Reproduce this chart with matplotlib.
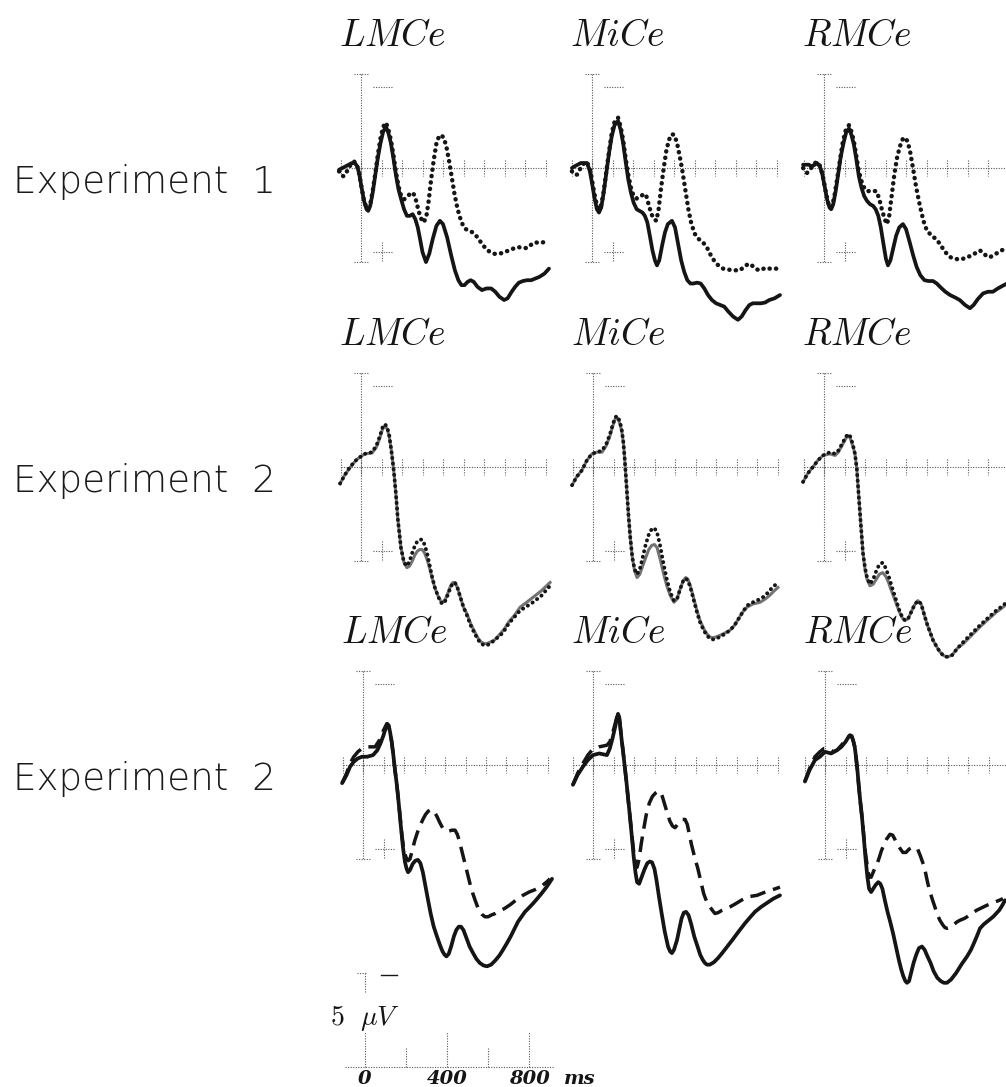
import matplotlib
matplotlib.use("Agg")
import matplotlib.pyplot as plt

plt.rcParams["mathtext.fontset"] = "cm"

W, H = 1006, 1087
PX_MS = 0.205   # pixels per ms
PX_UV = 16.5    # pixels per microvolt

electrodes = ["LMCe", "MiCe", "RMCe"]
row_labels = ["Experiment  1", "Experiment  2", "Experiment  2"]

# ---- Experiment 1 (solid vs dotted), values in uV, negative up ----
lmce1_t = [-107, -90, -75, -60, -45, -30, -18, -8, 3, 15, 27, 35, 45, 57, 70, 82, 95, 108, 122, 134,
           146, 158, 170, 183, 196, 210, 224, 238, 252, 265, 277, 288, 300, 317, 333, 350, 368, 385, 400, 420,
           440, 458, 475, 490, 505, 520, 535, 550, 568, 590, 612, 635, 655, 675, 698, 715, 735, 752, 770, 790,
           810, 830, 850, 870, 895, 917]
lmce1_solid = [0.1, 0.0, -0.1, -0.2, -0.3, -0.3, -0.1, 0.4, 1.2, 2.0, 2.5, 2.6, 2.3, 1.5, 0.4, -0.6, -1.5, -2.2, -2.5, -2.1,
               -1.5, -0.6, 0.4, 1.3, 1.9, 2.5, 2.9, 2.9, 2.8, 3.1, 3.6, 4.3, 5.1, 5.7, 5.2, 4.3, 3.5, 3.2, 3.4, 4.2,
               5.3, 6.2, 6.8, 7.1, 7.1, 6.9, 6.8, 6.9, 7.2, 7.4, 7.3, 7.3, 7.5, 7.8, 8.0, 7.9, 7.5, 7.2, 6.95, 6.85,
               6.8, 6.8, 6.7, 6.6, 6.4, 6.1]
lmce1_dot_t = [-107, -95, -85, -73, -60, -45, -34, -20, -8, 3, 15, 27, 35, 45, 57, 70, 82, 95, 108, 122,
               134, 146, 158, 170, 183, 196, 210, 225, 240, 254, 265, 277, 290, 305, 318, 330, 342, 355, 368, 380,
               392, 405, 418, 430, 442, 455, 468, 480, 495, 510, 530, 550, 568, 590, 610, 630, 650, 670, 690, 710,
               730, 750, 770, 790, 810, 830, 850, 870, 890, 902]
lmce1_dot = [0.2, 0.45, 0.5, 0.3, 0.0, -0.3, -0.4, -0.2, 0.4, 1.2, 2.0, 2.4, 2.5, 2.2, 1.4, 0.3, -0.8, -1.8, -2.5, -2.75,
             -2.3, -1.7, -0.8, 0.2, 1.1, 1.7, 1.9, 1.75, 1.55, 1.5, 1.8, 2.4, 3.0, 3.3, 3.0, 2.0, 0.7, -0.5, -1.5, -1.9,
             -2.0, -1.8, -1.2, -0.4, 0.5, 1.5, 2.3, 2.9, 3.4, 3.7, 3.8, 3.95, 4.2, 4.6, 4.9, 5.1, 5.2, 5.2, 5.15, 5.05,
             4.95, 4.85, 4.8, 4.85, 4.85, 4.65, 4.5, 4.55, 4.5, 4.5]

mice1_t = [-98, -85, -70, -55, -40, -25, -12, 0, 12, 24, 34, 45, 57, 70, 83, 96, 110, 127, 140, 152,
           164, 177, 190, 203, 218, 232, 246, 258, 270, 282, 295, 307, 317, 328, 342, 356, 370, 390, 405, 420,
           435, 450, 465, 480, 495, 512, 530, 548, 566, 585, 605, 625, 645, 665, 688, 712, 730, 750, 768, 785,
           805, 825, 845, 865, 890, 917]
mice1_solid = [0.0, -0.1, -0.2, -0.3, -0.3, -0.3, 0.1, 0.9, 1.8, 2.5, 2.7, 2.4, 1.5, 0.3, -0.9, -1.9, -2.6, -2.85, -2.3, -1.5,
               -0.4, 0.7, 1.5, 2.1, 2.5, 2.6, 2.7, 2.9, 3.3, 4.1, 5.0, 5.6, 5.9, 5.6, 4.7, 3.9, 3.4, 3.2, 3.6, 4.6,
               5.6, 6.3, 6.8, 7.0, 7.0, 6.95, 7.0, 7.3, 7.7, 8.0, 8.2, 8.3, 8.4, 8.7, 9.0, 9.2, 9.0, 8.6, 8.3, 8.2,
               8.2, 8.2, 8.15, 8.0, 7.9, 7.7]
mice1_dot_t = [-98, -85, -73, -60, -45, -30, -18, -6, 5, 17, 28, 36, 46, 57, 70, 83, 96, 110, 127, 140,
               152, 164, 177, 190, 203, 218, 235, 250, 263, 276, 290, 303, 314, 325, 337, 350, 362, 375, 390, 402,
               415, 428, 440, 455, 470, 485, 502, 520, 541, 560, 580, 600, 620, 640, 660, 690, 722, 745, 765, 785,
               805, 822, 845, 868, 895, 917]
mice1_dot = [0.2, 0.4, 0.4, 0.1, -0.2, -0.4, -0.2, 0.3, 1.1, 1.9, 2.4, 2.5, 2.2, 1.4, 0.2, -1.0, -2.1, -2.8, -3.05, -2.5,
             -1.7, -0.6, 0.4, 1.2, 1.7, 1.85, 1.75, 1.6, 1.6, 2.2, 2.8, 3.1, 3.2, 2.5, 1.2, 0.0, -1.0, -1.7, -2.05, -2.0,
             -1.5, -0.7, 0.1, 1.3, 2.5, 3.4, 4.0, 4.3, 4.5, 4.8, 5.3, 5.7, 5.95, 6.1, 6.15, 6.2, 6.2, 5.95, 5.8, 5.95,
             6.15, 6.2, 6.05, 6.1, 6.1, 6.1]

rmce1_t = [-102, -88, -75, -60, -45, -34, -20, -8, 3, 15, 27, 35, 45, 57, 70, 82, 95, 108, 122, 134,
           146, 158, 170, 183, 196, 210, 225, 240, 252, 265, 277, 290, 302, 312, 324, 337, 352, 367, 385, 400,
           418, 435, 452, 470, 490, 510, 532, 550, 570, 592, 615, 640, 662, 688, 712, 730, 750, 776, 800, 824,
           848, 870, 893]
rmce1_solid = [-0.2, -0.2, -0.2, -0.1, -0.2, -0.3, -0.1, 0.4, 1.1, 1.9, 2.4, 2.5, 2.2, 1.4, 0.3, -0.7, -1.5, -2.15, -2.4, -2.0,
               -1.4, -0.5, 0.5, 1.2, 1.7, 2.0, 2.2, 2.3, 2.5, 2.9, 3.6, 4.6, 5.5, 5.9, 5.6, 4.9, 4.1, 3.6, 3.4, 3.7,
               4.5, 5.3, 6.0, 6.5, 6.8, 6.85, 6.85, 7.0, 7.25, 7.5, 7.7, 7.85, 8.0, 8.3, 8.5, 8.3, 7.95, 7.6, 7.5, 7.5,
               7.3, 7.15, 7.0]
rmce1_dot_t = [-102, -92, -83, -70, -55, -40, -27, -15, -4, 8, 20, 30, 40, 52, 65, 78, 92, 106, 122, 134,
               146, 158, 170, 183, 196, 210, 225, 240, 255, 268, 282, 296, 307, 318, 330, 343, 356, 370, 384, 395,
               408, 420, 434, 450, 468, 485, 502, 525, 551, 570, 592, 615, 640, 660, 678, 700, 720, 740, 761, 778,
               793, 810, 825, 845, 865, 883]
rmce1_dot = [0.0, 0.2, 0.3, 0.1, -0.1, -0.35, -0.3, 0.0, 0.6, 1.4, 2.1, 2.4, 2.3, 1.6, 0.6, -0.5, -1.6, -2.3, -2.6, -2.2,
             -1.6, -0.7, 0.2, 0.8, 1.2, 1.4, 1.4, 1.4, 1.4, 1.8, 2.5, 3.1, 3.4, 2.9, 1.7, 0.4, -0.6, -1.3, -1.75, -1.85,
             -1.6, -1.0, 0.0, 1.2, 2.3, 3.2, 3.8, 4.1, 4.35, 4.7, 5.1, 5.4, 5.5, 5.55, 5.5, 5.4, 5.3, 5.15, 5.0, 5.15,
             5.35, 5.4, 5.3, 5.15, 5.0, 4.9]

# ---- Experiment 2 (solid vs dotted, nearly identical; shared time points) ----
lmce2_t = [-102, -80, -54, -25, -5, 20, 54, 75, 93, 105, 117, 128, 138, 147, 155, 162, 170, 180, 195, 210,
           224, 237, 250, 262, 275, 287, 298, 310, 322, 334, 346, 360, 375, 388, 400, 412, 425, 437, 448, 458,
           470, 485, 500, 517, 535, 555, 570, 585, 600, 615, 632, 650, 665, 680, 700, 720, 748, 776, 808, 839,
           880, 922]
lmce2_solid = [1.0, 0.5, 0.05, -0.4, -0.6, -0.8, -0.85, -1.2, -1.8, -2.3, -2.5, -2.3, -1.8, -1.1, -0.3, 0.5, 1.6, 3.2, 4.9, 5.8,
               6.1, 6.0, 5.7, 5.35, 5.1, 5.0, 5.0, 5.2, 5.6, 6.1, 6.7, 7.3, 7.8, 8.1, 8.2, 8.0, 7.6, 7.2, 7.0, 7.0,
               7.3, 7.9, 8.5, 8.9, 9.5, 10.0, 10.35, 10.6, 10.7, 10.7, 10.6, 10.5, 10.3, 10.1, 9.8, 9.4, 9.0, 8.5, 8.2, 7.9,
               7.5, 7.0]
lmce2_dot = [1.0, 0.5, 0.0, -0.4, -0.6, -0.8, -0.9, -1.3, -1.9, -2.4, -2.6, -2.4, -1.9, -1.1, -0.3, 0.5, 1.6, 3.2, 4.9, 5.8,
             6.0, 5.7, 5.2, 4.8, 4.5, 4.4, 4.4, 4.7, 5.2, 5.9, 6.6, 7.3, 7.8, 8.2, 8.3, 8.1, 7.7, 7.3, 7.05, 7.0,
             7.3, 7.9, 8.5, 9.0, 9.6, 10.1, 10.45, 10.7, 10.8, 10.8, 10.7, 10.5, 10.35, 10.2, 9.9, 9.5, 9.1, 8.7, 8.45, 8.2,
             7.8, 7.2]

mice2_t = [-102, -80, -54, -30, -5, 20, 44, 65, 83, 97, 108, 117, 126, 134, 141, 148, 154, 160, 166, 173,
           182, 192, 203, 215, 228, 242, 257, 272, 287, 300, 313, 328, 343, 360, 377, 395, 410, 425, 440, 452,
           463, 475, 490, 507, 522, 540, 555, 570, 585, 600, 620, 645, 668, 690, 710, 730, 751, 780, 815, 840,
           860, 880, 902]
mice2_solid = [1.1, 0.6, 0.2, -0.4, -0.8, -0.9, -0.9, -1.3, -1.9, -2.5, -2.9, -3.0, -2.8, -2.5, -2.1, -1.5, -0.6, 0.5, 1.6, 2.9,
               4.3, 5.5, 6.3, 6.7, 6.5, 6.0, 5.5, 5.0, 4.75, 4.7, 4.9, 5.6, 6.4, 7.2, 7.8, 8.2, 8.0, 7.4, 6.9, 6.7,
               6.8, 7.2, 7.9, 8.7, 9.3, 9.8, 10.1, 10.3, 10.35, 10.3, 10.2, 10.05, 9.9, 9.6, 9.2, 8.8, 8.5, 8.3, 8.2, 8.0,
               7.8, 7.55, 7.3]
mice2_dot = [1.1, 0.6, 0.2, -0.4, -0.8, -0.9, -1.0, -1.4, -2.0, -2.6, -3.0, -3.1, -2.9, -2.6, -2.2, -1.5, -0.6, 0.5, 1.6, 2.9,
             4.3, 5.5, 6.2, 6.5, 6.2, 5.5, 4.7, 4.1, 3.75, 3.7, 4.0, 4.8, 5.8, 6.8, 7.6, 8.1, 8.0, 7.4, 6.9, 6.75,
             6.9, 7.3, 8.0, 8.8, 9.4, 9.9, 10.2, 10.4, 10.45, 10.4, 10.3, 10.1, 9.9, 9.6, 9.2, 8.8, 8.4, 8.2, 8.0, 7.8,
             7.5, 7.25, 7.0]

rmce2_t = [-102, -80, -54, -30, -5, 29, 54, 70, 88, 105, 117, 128, 140, 151, 160, 168, 178, 190, 200, 210,
           224, 240, 255, 270, 286, 300, 315, 332, 350, 368, 382, 395, 410, 425, 442, 458, 474, 490, 505, 517,
           532, 550, 565, 580, 595, 605, 625, 650, 680, 712, 740, 760, 795, 840, 873, 900]
rmce2_solid = [0.9, 0.4, 0.0, -0.4, -0.7, -0.8, -0.7, -0.9, -1.3, -1.7, -1.9, -1.75, -1.3, -0.8, 0.1, 1.5, 3.2, 5.2, 6.2, 6.8,
               7.2, 7.1, 6.8, 6.5, 6.4, 6.6, 7.0, 7.6, 8.2, 8.8, 9.15, 9.3, 9.2, 8.8, 8.35, 8.1, 8.3, 9.0, 9.6, 10.0,
               10.5, 10.9, 11.2, 11.4, 11.5, 11.5, 11.4, 11.0, 10.7, 10.3, 9.95, 9.7, 9.3, 8.8, 8.5, 8.2]
rmce2_dot = [0.9, 0.4, 0.0, -0.4, -0.7, -0.9, -0.8, -1.0, -1.4, -1.8, -2.0, -1.85, -1.4, -0.8, 0.1, 1.5, 3.2, 5.2, 6.1, 6.7,
             7.1, 6.8, 6.3, 5.9, 5.8, 6.1, 6.6, 7.3, 8.0, 8.7, 9.1, 9.3, 9.2, 8.8, 8.35, 8.1, 8.3, 9.0, 9.6, 10.0,
             10.5, 10.9, 11.2, 11.4, 11.5, 11.5, 11.4, 11.0, 10.6, 10.2, 9.85, 9.6, 9.2, 8.7, 8.4, 8.1]

# ---- Experiment 2 (solid vs dashed) ----
lmce3_t = [-102, -80, -63, -45, -25, -5, 20, 49, 70, 85, 100, 110, 117, 125, 132, 140, 148, 156, 164, 171,
           183, 195, 205, 213, 220, 230, 242, 255, 268, 280, 292, 304, 316, 330, 345, 361, 375, 388, 398, 407,
           418, 430, 443, 455, 467, 478, 490, 505, 520, 537, 553, 570, 588, 605, 625, 645, 665, 683, 702, 720,
           738, 756, 773, 790, 810, 829, 850, 870, 895, 922]
lmce3_solid = [1.1, 0.6, 0.1, -0.2, -0.4, -0.5, -0.5, -0.6, -0.9, -1.3, -1.8, -2.2, -2.5, -2.4, -2.0, -1.4, -0.6, 0.3, 1.1, 1.9,
               3.5, 5.0, 5.9, 6.3, 6.5, 6.35, 6.0, 5.8, 5.75, 5.95, 6.5, 7.3, 8.1, 9.0, 9.8, 10.4, 10.9, 11.3, 11.5, 11.6,
               11.45, 11.0, 10.4, 10.0, 9.8, 9.8, 10.0, 10.5, 11.0, 11.4, 11.75, 12.0, 12.15, 12.2, 12.1, 11.85, 11.55, 11.2, 10.8, 10.4,
               9.95, 9.5, 9.2, 8.9, 8.65, 8.4, 8.1, 7.8, 7.4, 6.9]
lmce3_dash_t = [-102, -80, -63, -45, -25, -5, 25, 59, 80, 100, 110, 117, 125, 132, 140, 148, 156, 164, 171, 180,
                190, 200, 210, 220, 229, 240, 252, 265, 278, 292, 305, 318, 332, 346, 360, 375, 390, 405, 420, 435,
                449, 460, 470, 480, 490, 500, 512, 524, 536, 550, 565, 580, 595, 610, 625, 645, 665, 690, 720, 750,
                780, 810, 840, 870, 895, 912]
lmce3_dash = [1.1, 0.5, -0.1, -0.5, -0.8, -1.0, -1.1, -1.1, -1.5, -2.1, -2.35, -2.5, -2.4, -2.0, -1.4, -0.6, 0.3, 1.1, 1.9, 3.0,
              4.3, 5.2, 5.6, 5.8, 5.7, 5.2, 4.6, 4.1, 3.7, 3.3, 3.0, 2.8, 2.7, 2.8, 3.1, 3.5, 3.85, 4.0, 4.0, 3.95,
              3.95, 4.2, 4.6, 5.1, 5.6, 6.1, 6.7, 7.3, 7.8, 8.3, 8.8, 9.05, 9.2, 9.2, 9.1, 9.0, 8.85, 8.7, 8.45, 8.15,
              7.9, 7.7, 7.55, 7.35, 7.1, 6.9]

mice3_t = [-98, -75, -49, -25, 0, 30, 68, 82, 95, 108, 116, 122, 128, 134, 140, 146, 154, 163, 171, 180,
           190, 198, 207, 215, 225, 240, 252, 265, 277, 288, 300, 310, 322, 335, 350, 366, 376, 385, 395, 410,
           420, 432, 443, 454, 466, 478, 494, 510, 523, 535, 546, 556, 570, 590, 610, 630, 655, 680, 710, 741,
           765, 790, 820, 850, 880, 912]
mice3_solid = [1.2, 0.6, 0.1, -0.3, -0.6, -0.7, -0.6, -1.0, -1.6, -2.3, -2.8, -3.1, -2.9, -2.2, -1.5, -0.9, 0.0, 1.0, 2.0, 3.1,
               4.4, 5.5, 6.5, 7.1, 7.2, 6.7, 6.3, 5.95, 5.85, 5.9, 6.3, 7.0, 8.0, 9.0, 10.1, 11.0, 11.3, 11.4, 11.2, 10.6,
               10.0, 9.3, 8.95, 8.9, 9.1, 9.6, 10.4, 11.0, 11.5, 11.8, 12.0, 12.1, 12.1, 11.95, 11.7, 11.4, 11.0, 10.6, 10.1, 9.6,
               9.25, 8.9, 8.6, 8.35, 8.1, 7.9]
mice3_dash_t = [-98, -75, -49, -25, -5, 30, 68, 82, 95, 108, 116, 122, 128, 134, 140, 146, 154, 163, 171, 180,
                190, 198, 207, 215, 225, 235, 247, 260, 275, 290, 305, 318, 327, 338, 350, 362, 375, 388, 400, 413,
                425, 437, 449, 460, 470, 480, 490, 500, 510, 525, 540, 555, 570, 585, 595, 610, 630, 650, 668, 690,
                710, 730, 751, 775, 800, 830, 863, 890, 912]
mice3_dash = [1.2, 0.5, -0.1, -0.6, -0.9, -1.1, -1.2, -1.4, -1.9, -2.5, -2.9, -3.1, -2.9, -2.2, -1.5, -0.9, 0.0, 1.0, 2.0, 3.1,
              4.3, 5.2, 5.9, 6.2, 5.7, 4.8, 3.9, 3.0, 2.3, 1.9, 1.7, 1.6, 1.6, 1.9, 2.4, 2.9, 3.4, 3.7, 3.8, 3.6,
              3.4, 3.3, 3.3, 3.6, 4.2, 4.8, 5.3, 5.8, 6.2, 7.0, 7.8, 8.3, 8.6, 8.85, 9.0, 8.95, 8.8, 8.7, 8.6, 8.45,
              8.3, 8.15, 8.0, 7.95, 7.9, 7.75, 7.6, 7.5, 7.4]

rmce3_t = [-98, -75, -49, -25, 0, 30, 59, 80, 100, 112, 122, 130, 137, 145, 151, 158, 165, 172, 180, 190,
           198, 207, 215, 225, 235, 248, 260, 270, 280, 292, 305, 318, 332, 346, 360, 372, 382, 392, 400, 410,
           420, 432, 445, 458, 473, 486, 500, 515, 530, 548, 565, 580, 595, 615, 640, 665, 693, 712, 730, 745,
           756, 775, 790, 805, 820, 835, 850, 865, 878]
rmce3_solid = [1.0, 0.3, -0.3, -0.5, -0.8, -0.7, -0.9, -1.1, -1.4, -1.65, -1.8, -1.75, -1.5, -1.1, -0.5, 0.3, 1.3, 2.2, 3.1, 4.5,
               5.7, 6.8, 7.5, 7.7, 7.5, 7.25, 7.1, 7.2, 7.5, 8.2, 8.9, 9.5, 10.2, 11.0, 11.8, 12.4, 12.8, 13.1, 13.2, 13.1,
               12.6, 12.0, 11.5, 11.1, 11.0, 11.2, 11.6, 12.0, 12.5, 12.9, 13.1, 13.2, 13.2, 13.0, 12.6, 12.1, 11.6, 11.2, 10.7, 10.25,
               9.9, 9.65, 9.5, 9.35, 9.2, 9.0, 8.8, 8.5, 8.2]
rmce3_dash_t = [-98, -75, -49, -25, -5, 20, 40, 59, 80, 100, 112, 122, 130, 137, 145, 151, 158, 165, 172, 180,
                190, 198, 207, 215, 225, 235, 245, 254, 265, 275, 285, 300, 317, 330, 345, 360, 380, 395, 410, 425,
                439, 452, 465, 475, 485, 495, 502, 515, 525, 536, 546, 560, 575, 585, 595, 610, 625, 645, 660, 680,
                693, 715, 740, 765, 790, 810, 830, 850, 868]
rmce3_dash = [1.0, 0.2, -0.5, -0.8, -1.0, -1.0, -0.8, -0.9, -1.2, -1.5, -1.7, -1.8, -1.75, -1.5, -1.1, -0.5, 0.3, 1.3, 2.2, 3.1,
              4.4, 5.4, 6.2, 6.8, 6.8, 6.5, 6.2, 6.0, 5.6, 5.2, 4.9, 4.5, 4.2, 4.25, 4.6, 4.95, 5.3, 5.3, 5.1, 5.0,
              5.0, 5.1, 5.5, 5.85, 6.2, 6.8, 7.2, 7.8, 8.2, 8.6, 9.0, 9.4, 9.7, 9.85, 9.9, 9.85, 9.7, 9.5, 9.4, 9.3,
              9.2, 9.0, 8.8, 8.65, 8.5, 8.4, 8.3, 8.2, 8.1]

# calibration scale
scale_ticks = [0, 200, 400, 600, 800]
scale_tick_labels = ["0", "400", "800"]

panels = [
    [(lmce1_t, lmce1_solid, lmce1_dot_t, lmce1_dot),
     (mice1_t, mice1_solid, mice1_dot_t, mice1_dot),
     (rmce1_t, rmce1_solid, rmce1_dot_t, rmce1_dot)],
    [(lmce2_t, lmce2_solid, lmce2_t, lmce2_dot),
     (mice2_t, mice2_solid, mice2_t, mice2_dot),
     (rmce2_t, rmce2_solid, rmce2_t, rmce2_dot)],
    [(lmce3_t, lmce3_solid, lmce3_dash_t, lmce3_dash),
     (mice3_t, mice3_solid, mice3_dash_t, mice3_dash),
     (rmce3_t, rmce3_solid, rmce3_dash_t, rmce3_dash)],
]

# layout: pixel position of (0 ms, 0 uV) for each panel
origin_x = [[361, 592, 824], [361, 593, 824], [363, 593, 825]]
origin_y = [168, 467, 765]

AX_COL = "0.35"
AX_LS = (0, (1, 1.3))
INK = "#151515"

fig = plt.figure(figsize=(W / 100, H / 100), dpi=100)


def panel_axes(x0, y0, xlim=(-200, 1000), ylim=(15, -9)):
    left = x0 + xlim[0] * PX_MS
    width = (xlim[1] - xlim[0]) * PX_MS
    top = y0 + ylim[1] * PX_UV
    height = (ylim[0] - ylim[1]) * PX_UV
    ax = fig.add_axes([left / W, 1 - (top + height) / H, width / W, height / H])
    ax.set_xlim(*xlim)
    ax.set_ylim(*ylim)
    ax.axis("off")
    return ax


def frame(ax):
    kw = dict(color=AX_COL, lw=0.8, ls=AX_LS, clip_on=False)
    ax.plot([-100, 910], [0, 0], **kw)
    for t in range(-100, 901, 100):
        ax.plot([t, t], [-0.5, 0.5], **kw)
    ax.plot([0, 0], [-5.7, 5.7], **kw)
    ax.plot([-35, 38], [-5.7, -5.7], **kw)
    ax.plot([-35, 38], [5.7, 5.7], **kw)
    ax.plot([60, 156], [-4.9, -4.9], **kw)
    ax.plot([60, 150], [5.1, 5.1], **kw)
    ax.plot([103, 103], [4.5, 5.7], **kw)


for r in range(3):
    for c in range(3):
        ax = panel_axes(origin_x[r][c], origin_y[r])
        frame(ax)
        ax.text(-105, -7.4, "$" + electrodes[c] + "$", fontsize=27, color=INK,
                ha="left", va="baseline")
        t1, v1, t2, v2 = panels[r][c]
        if r == 0:
            ax.plot(t1, v1, color=INK, lw=2.7, solid_capstyle="round", solid_joinstyle="round",
                    clip_on=False, zorder=3)
            ax.plot(t2, v2, color=INK, lw=3.2, ls=(0, (0.05, 1.4)), dash_capstyle="round",
                    clip_on=False, zorder=4)
        elif r == 1:
            ax.plot(t1, v1, color="0.45", lw=2.2, solid_joinstyle="round", clip_on=False, zorder=3)
            ax.plot(t2, v2, color=INK, lw=2.8, ls=(0, (0.05, 1.4)), dash_capstyle="round",
                    clip_on=False, zorder=4)
        else:
            ax.plot(t1, v1, color=INK, lw=2.7, solid_capstyle="round", solid_joinstyle="round",
                    clip_on=False, zorder=3)
            ax.plot(t2, v2, color=INK, lw=2.5, ls=(0, (4.5, 2.3)), dash_capstyle="butt",
                    dash_joinstyle="round", clip_on=False, zorder=4)

for r in range(3):
    fig.text(13 / W, 1 - (origin_y[r] + 25) / H, row_labels[r], fontsize=26.8,
             family="DejaVu Sans", weight="light", color="#1a1a1a", va="baseline")

# calibration: 5 uV / time scale under the left column
sax = panel_axes(365, 1067, ylim=(2, -9))
kw = dict(color=AX_COL, lw=0.8, ls=AX_LS, clip_on=False)
sax.plot([-100, 920], [0, 0], **kw)
for i, t in enumerate(scale_ticks):
    sax.plot([t, t], [0, -2.1 if i % 2 == 0 else -1.15], **kw)
sax.plot([0, 0], [-5.7, -4.5], **kw)
sax.plot([-40, 5], [-5.7, -5.7], **kw)
sax.plot([78, 156], [-5.6, -5.6], color=INK, lw=1.0, clip_on=False)
sax.text(-172, -2.55, r"$5\ \ \mu V$", fontsize=20, color=INK, ha="left", va="baseline")
for lab in scale_tick_labels:
    sax.text(int(lab), 1.0, lab, ha="center", va="baseline", fontsize=14, family="DejaVu Serif",
             style="italic", weight="bold", color=INK)
sax.text(1045, 1.0, "ms", ha="center", va="baseline", fontsize=14, family="DejaVu Serif",
         style="italic", weight="bold", color=INK)

fig.savefig("out.png", dpi=100)
